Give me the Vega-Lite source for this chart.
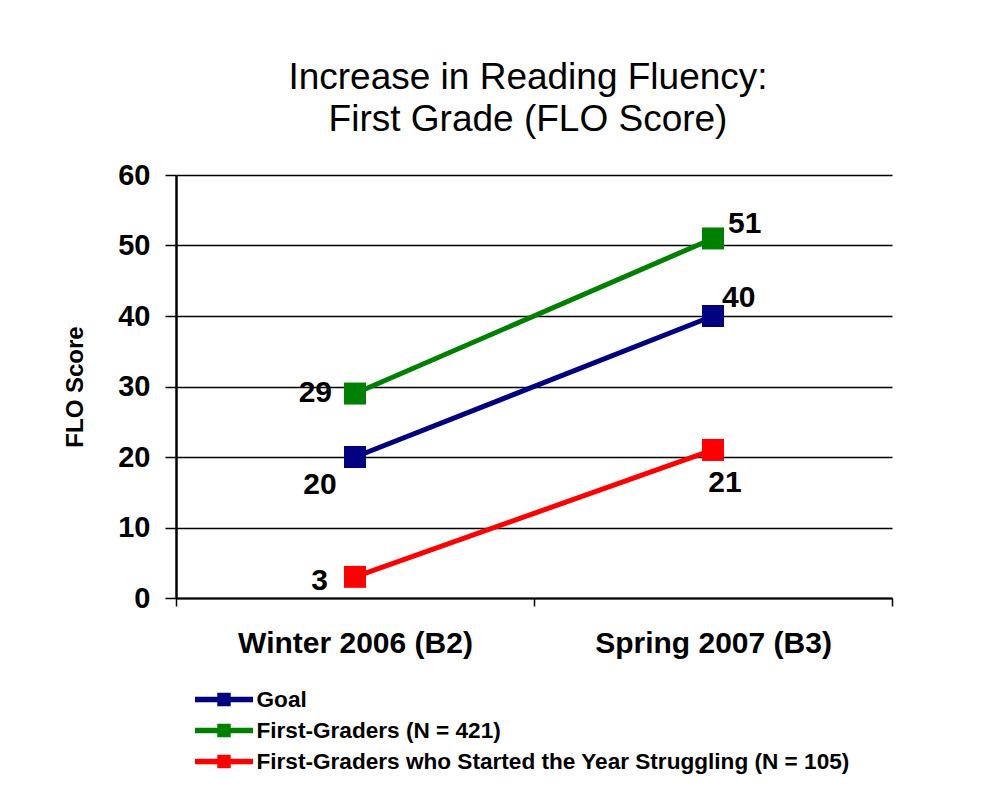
{
  "$schema": "https://vega.github.io/schema/vega-lite/v6.json",
  "width": 716,
  "height": 423,
  "autosize": "none",
  "padding": {"left": 176, "top": 175, "right": 114, "bottom": 193},
  "background": "white",
  "title": {
    "text": ["Increase in Reading Fluency:", "First Grade (FLO Score)"],
    "font": "Liberation Sans",
    "fontSize": 37,
    "fontWeight": "normal",
    "color": "black",
    "anchor": "middle",
    "lineHeight": 42,
    "offset": 22,
    "dx": -6
  },
  "config": {
    "view": {"stroke": null},
    "font": "Liberation Sans"
  },
  "data": {
    "values": [
      {"series": "Goal", "period": "Winter 2006 (B2)", "score": 20},
      {"series": "Goal", "period": "Spring 2007 (B3)", "score": 40},
      {"series": "First-Graders (N = 421)", "period": "Winter 2006 (B2)", "score": 29},
      {"series": "First-Graders (N = 421)", "period": "Spring 2007 (B3)", "score": 51},
      {"series": "First-Graders who Started the Year Struggling (N = 105)", "period": "Winter 2006 (B2)", "score": 3},
      {"series": "First-Graders who Started the Year Struggling (N = 105)", "period": "Spring 2007 (B3)", "score": 21}
    ]
  },
  "encoding": {
    "x": {
      "field": "period",
      "type": "nominal",
      "sort": ["Winter 2006 (B2)", "Spring 2007 (B3)"],
      "bandPosition": 0.5,
      "scale": {"type": "band", "paddingInner": 0, "paddingOuter": 0},
      "axis": {
        "title": null,
        "labelAngle": 0,
        "labelFont": "Liberation Sans",
        "labelFontSize": 30,
        "labelFontWeight": "bold",
        "labelColor": "black",
        "labelPadding": 22,
        "labelLimit": 600,
        "tickBand": "extent",
        "tickSize": 8,
        "tickColor": "black",
        "tickWidth": 1.5,
        "domainColor": "black",
        "domainWidth": 2,
        "grid": false
      }
    },
    "y": {
      "field": "score",
      "type": "quantitative",
      "scale": {"domain": [0, 60], "nice": false},
      "axis": {
        "title": "FLO Score",
        "titleFont": "Liberation Sans",
        "titleFontSize": 24,
        "titleFontWeight": "bold",
        "titleColor": "black",
        "titlePadding": 30,
        "values": [0, 10, 20, 30, 40, 50, 60],
        "labelFont": "Liberation Sans",
        "labelFontSize": 29,
        "labelFontWeight": "bold",
        "labelColor": "black",
        "labelPadding": 15,
        "tickSize": 11,
        "tickColor": "black",
        "tickWidth": 1.5,
        "domainColor": "black",
        "domainWidth": 2.5,
        "grid": true,
        "gridColor": "black",
        "gridWidth": 1.5,
        "gridOpacity": 1
      }
    }
  },
  "layer": [
    {
      "mark": {"type": "line", "strokeWidth": 5},
      "encoding": {
        "color": {
          "field": "series",
          "type": "nominal",
          "scale": {
            "domain": ["Goal", "First-Graders (N = 421)", "First-Graders who Started the Year Struggling (N = 105)"],
            "range": ["#000080", "#008000", "#FF0000"]
          },
          "legend": {
            "orient": "none",
            "legendX": 35.5,
            "legendY": 512,
            "title": null,
            "padding": 0,
            "symbolType": "M-3,0H3M-0.41,-0.41H0.41V0.41H-0.41Z",
            "symbolSize": 374,
            "symbolStrokeWidth": 5.5,
            "labelFont": "Liberation Sans",
            "labelFontSize": 22.6,
            "labelFontWeight": "bold",
            "labelColor": "black",
            "labelOffset": 20,
            "rowPadding": 0,
            "labelLimit": 800
          }
        }
      }
    },
    {
      "mark": {"type": "point", "shape": "square", "filled": true, "opacity": 1, "size": 484},
      "encoding": {
        "color": {"field": "series", "type": "nominal"}
      }
    },
    {
      "transform": [{"filter": "datum.score == 29"}],
      "mark": {"type": "text", "align": "right", "dx": -23, "dy": 8, "baseline": "alphabetic", "fontSize": 30, "fontWeight": "bold", "color": "black"},
      "encoding": {"text": {"field": "score", "type": "quantitative"}}
    },
    {
      "transform": [{"filter": "datum.score == 3"}],
      "mark": {"type": "text", "align": "right", "dx": -27, "dy": 13, "baseline": "alphabetic", "fontSize": 30, "fontWeight": "bold", "color": "black"},
      "encoding": {"text": {"field": "score", "type": "quantitative"}}
    },
    {
      "transform": [{"filter": "datum.score == 20"}],
      "mark": {"type": "text", "align": "center", "dx": -35, "dy": 37, "baseline": "alphabetic", "fontSize": 30, "fontWeight": "bold", "color": "black"},
      "encoding": {"text": {"field": "score", "type": "quantitative"}}
    },
    {
      "transform": [{"filter": "datum.score == 51"}],
      "mark": {"type": "text", "align": "left", "dx": 15, "dy": -5, "baseline": "alphabetic", "fontSize": 30, "fontWeight": "bold", "color": "black"},
      "encoding": {"text": {"field": "score", "type": "quantitative"}}
    },
    {
      "transform": [{"filter": "datum.score == 40"}],
      "mark": {"type": "text", "align": "left", "dx": 9, "dy": -9, "baseline": "alphabetic", "fontSize": 30, "fontWeight": "bold", "color": "black"},
      "encoding": {"text": {"field": "score", "type": "quantitative"}}
    },
    {
      "transform": [{"filter": "datum.score == 21"}],
      "mark": {"type": "text", "align": "center", "dx": 12, "dy": 42, "baseline": "alphabetic", "fontSize": 30, "fontWeight": "bold", "color": "black"},
      "encoding": {"text": {"field": "score", "type": "quantitative"}}
    }
  ]
}
